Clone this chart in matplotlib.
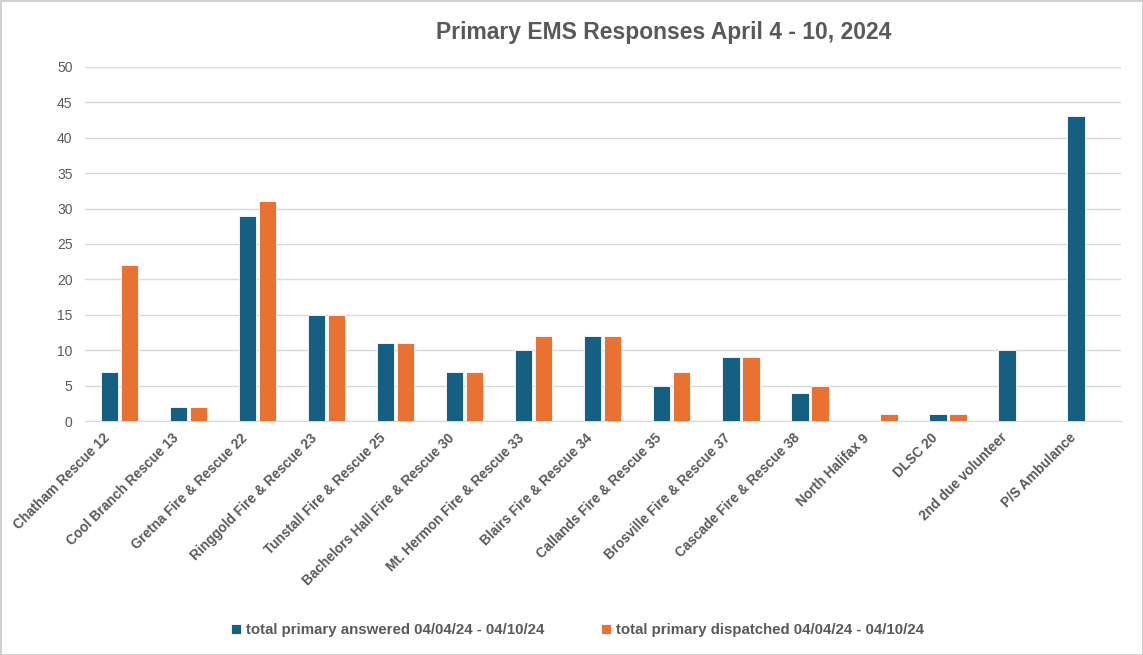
import numpy as np
import matplotlib.pyplot as plt
from matplotlib.transforms import ScaledTranslation

# station names and weekly counts
stations = ["Chatham Rescue 12", "Cool Branch Rescue 13", "Gretna Fire & Rescue 22",
            "Ringgold Fire & Rescue 23", "Tunstall Fire & Rescue 25",
            "Bachelors Hall Fire & Rescue 30", "Mt. Hermon Fire & Rescue 33",
            "Blairs Fire & Rescue 34", "Callands Fire & Rescue 35",
            "Brosville Fire & Rescue 37", "Cascade Fire & Rescue 38",
            "North Halifax 9", "DLSC 20", "2nd due volunteer", "P/S Ambulance"]
answered = [7, 2, 29, 15, 11, 7, 10, 12, 5, 9, 4, 0, 1, 10, 43]
dispatched = [22, 2, 31, 15, 11, 7, 12, 12, 7, 9, 5, 1, 1, 0, 0]

label_answered = "total primary answered 04/04/24 - 04/10/24"
label_dispatched = "total primary dispatched 04/04/24 - 04/10/24"

blue = "#156082"
orange = "#E97132"
grey = "#595959"
plt.rcParams["font.family"] = ["Liberation Sans", "DejaVu Sans"]

fig = plt.figure(figsize=(11.43, 6.55), dpi=100)
fig.patch.set_edgecolor("#d0d0d0")
fig.patch.set_linewidth(2)
ax = fig.add_axes([0.0744, 0.357, 0.906, 0.541])

x = np.arange(len(stations))
w = 0.25
ax.bar(x - 0.145, answered, w, color=blue, edgecolor="white", linewidth=0.6,
       label=label_answered, zorder=3)
ax.bar(x + 0.145, dispatched, w, color=orange, edgecolor="white", linewidth=0.6,
       label=label_dispatched, zorder=3)

ax.set_xlim(-0.5, len(stations) - 0.5)
ax.set_ylim(0, 50)
ax.set_yticks(range(0, 51, 5))
ax.yaxis.grid(True, color="#d9d9d9", linewidth=1, zorder=0)
ax.set_axisbelow(True)
for s in ["top", "right", "left"]:
    ax.spines[s].set_visible(False)
ax.spines["bottom"].set_color("#d9d9d9")
ax.tick_params(length=0)
ax.tick_params(axis="y", labelsize=10, labelcolor=grey, pad=9)
ax.set_xticks(x)
ax.set_xticklabels(stations, rotation=45, ha="right", rotation_mode="anchor",
                   fontsize=9.8, fontweight="bold", color=grey)
ax.tick_params(axis="x", pad=7)
shift = ScaledTranslation(-0.17, 0, fig.dpi_scale_trans)
for lab in ax.get_xticklabels():
    lab.set_transform(lab.get_transform() + shift)

fig.text(0.581, 0.951, "Primary EMS Responses April 4 - 10, 2024",
         ha="center", va="center", fontsize=16.5, fontweight="bold", color=grey)

leg = fig.legend(loc="center", bbox_to_anchor=(0.505, 0.038), ncol=2, frameon=False,
                 handlelength=0.7, handleheight=0.7, handletextpad=0.3,
                 columnspacing=3.8, prop={"size": 10.8, "weight": "bold"})
for t in leg.get_texts():
    t.set_color(grey)

plt.savefig("out.png", dpi=100)
